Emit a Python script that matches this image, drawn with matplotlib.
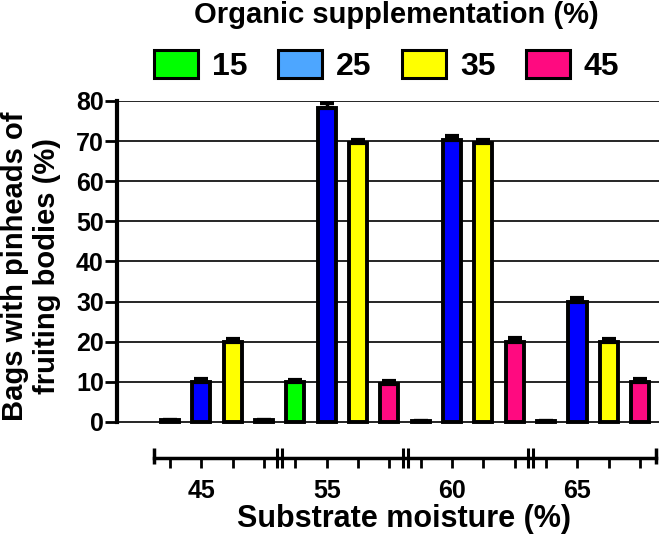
import matplotlib.pyplot as plt
from matplotlib.patches import Patch
import numpy as np

plt.rcParams['font.family'] = ['Liberation Sans', 'DejaVu Sans']
plt.rcParams['font.weight'] = 'bold'

# Substrate moisture groups and organic supplementation series
moisture = ['45', '55', '60', '65']
supplement = ['15', '25', '35', '45']
bar_colors = ['#00ff00', '#0000ff', '#ffff00', '#ff0a80']
legend_colors = ['#00ff00', '#4da6ff', '#ffff00', '#ff0a80']

# bag percentage per series (one value per moisture group)
pct_15 = [0.5, 10.0, 0.3, 0.3]
pct_25 = [10.0, 78.2, 70.2, 30.0]
pct_35 = [20.0, 69.5, 69.6, 20.0]
pct_45 = [0.5, 9.5, 20.0, 10.0]

err_15 = [0.0, 0.5, 0.0, 0.0]
err_25 = [0.8, 1.2, 1.0, 0.9]
err_35 = [0.7, 0.8, 0.8, 0.7]
err_45 = [0.0, 0.7, 0.8, 0.7]

series = [pct_15, pct_25, pct_35, pct_45]
errors = [err_15, err_25, err_35, err_45]

n_sup = len(supplement)
n_grp = len(moisture)

fig = plt.figure(figsize=(6.61, 5.35), dpi=100)
ax = fig.add_axes([117 / 661, 1 - 458 / 535, 542 / 661, 357 / 535])

bar_w = 0.575
for k in range(n_sup):
    xs = np.arange(n_grp) * n_sup + k
    ax.bar(xs, series[k], width=bar_w, color=bar_colors[k], edgecolor='black',
           linewidth=2.8, zorder=3)
    ax.errorbar(xs, series[k], yerr=[np.zeros(n_grp), errors[k]], fmt='none',
                ecolor='black', elinewidth=2.5, capsize=5, capthick=3, zorder=4)

ax.set_xlim(-1.69, 15.6)
ax.set_ylim(-9, 80)

ax.set_yticks(np.arange(0, 81, 10))
ax.tick_params(axis='y', direction='out', length=9, width=2, labelsize=18, pad=0.5)
ax.yaxis.grid(True, color='black', linewidth=1.2)
ax.set_axisbelow(True)

positions = np.arange(n_grp * n_sup)
labels = ['' for _ in positions]
for g, m in enumerate(moisture):
    labels[g * n_sup + 1] = m
ax.set_xticks(positions)
ax.set_xticklabels(labels)
ax.tick_params(axis='x', direction='out', length=7, width=2, labelsize=18, pad=8)

for side in ['top', 'right']:
    ax.spines[side].set_visible(False)
ax.spines['left'].set_bounds(0, 80)
ax.spines['left'].set_linewidth(3)
ax.spines['bottom'].set_bounds(-0.5, n_grp * n_sup - 0.5)
ax.spines['bottom'].set_linewidth(2.5)

# end caps and group break marks on the lower axis
for xe in [-0.5, n_grp * n_sup - 0.5]:
    ax.plot([xe, xe], [-6.5, -10.5], color='black', lw=2.5, clip_on=False,
            solid_capstyle='butt')
for g in range(1, n_grp):
    xb = g * n_sup - 0.5
    for dx in [-0.08, 0.08]:
        ax.plot([xb + dx, xb + dx], [-6.5, -11.5], color='black', lw=2.2,
                clip_on=False, solid_capstyle='butt')

fig.text(404 / 661, 1 - 527 / 535, 'Substrate moisture (%)', ha='center',
         va='baseline', fontsize=22, fontweight='bold')
fig.text(31 / 661, 1 - 266 / 535, 'Bags with pinheads of\nfruiting bodies (%)',
         ha='center', va='center', rotation=90, fontsize=21, fontweight='bold',
         linespacing=1.15, multialignment='center')
fig.text(396 / 661, 1 - 23 / 535, 'Organic supplementation (%)', ha='center',
         va='baseline', fontsize=21, fontweight='bold')

handles = [Patch(facecolor=c, edgecolor='black', linewidth=2.2) for c in legend_colors]
fig.legend(handles, supplement, ncol=4, loc='center',
           bbox_to_anchor=(386.5 / 661, 1 - 66 / 535), frameon=False,
           prop={'size': 23, 'weight': 'bold'}, handlelength=1.4,
           handleheight=1.0, handletextpad=0.42, columnspacing=0.95)

fig.savefig('out.png', dpi=100)
